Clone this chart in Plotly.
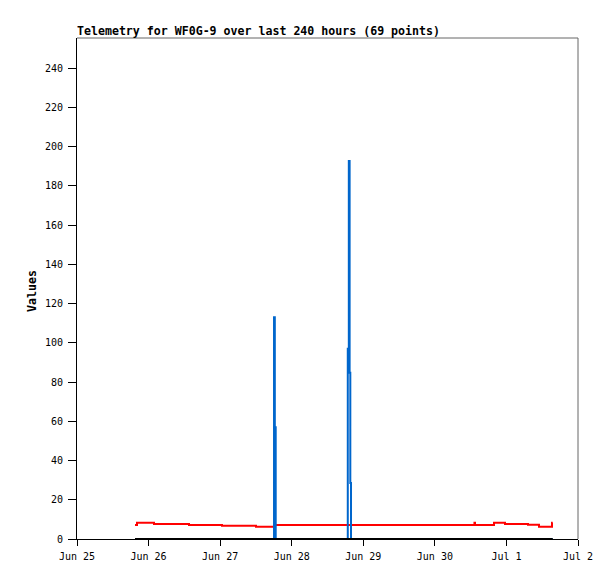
import plotly.graph_objects as go

# ---- data ----
times = [
    "2024-06-25 19:27", "2024-06-25 20:07", "2024-06-26 01:49", "2024-06-26 13:34",
    "2024-06-27 00:37", "2024-06-27 12:01", "2024-06-27 18:04", "2024-06-27 18:14",
    "2024-06-27 18:20", "2024-06-27 18:38", "2024-06-28 18:48", "2024-06-28 19:09",
    "2024-06-28 19:25", "2024-06-28 19:39", "2024-06-28 19:53", "2024-06-30 13:17",
    "2024-06-30 13:28", "2024-06-30 19:50", "2024-06-30 23:31", "2024-07-01 07:14",
    "2024-07-01 10:55", "2024-07-01 15:17", "2024-07-01 15:31",
]
red_vals = [7.1, 8.3, 7.6, 7.1, 6.7, 6.3, 6.3, 7.1, 7.1, 7.1, 7.1, 7.1,
            7.1, 7.1, 7.1, 8.3, 7.1, 8.3, 7.6, 7.2, 6.3, 8.3, 8.3]
blue_vals = [0, 0, 0, 0, 0, 0, 113, 113, 57, 0, 97, 192.6,
             84.7, 28.5, 0, 0, 0, 0, 0, 0, 0, 0, 0]
black_vals = [0, 0, 0, 0, 0, 0, 0, 0, 0, 0, 0, 0,
              0, 0, 0, 0, 0, 0, 0, 0, 0, 0, 0]

x_ticks = ["2024-06-25", "2024-06-26", "2024-06-27", "2024-06-28",
           "2024-06-29", "2024-06-30", "2024-07-01", "2024-07-02"]
x_tick_labels = ["Jun 25", "Jun 26", "Jun 27", "Jun 28", "Jun 29", "Jun 30", "Jul 1", "Jul 2"]
y_ticks = [0, 20, 40, 60, 80, 100, 120, 140, 160, 180, 200, 220, 240]

title_text = "Telemetry for WF0G-9 over last 240 hours (69 points)"
mono = "DejaVu Sans Mono"

# page has an 8px body margin, so the figure is shifted by 8px
W, H = 607, 571

fig = go.Figure()
fig.add_trace(go.Scatter(x=times, y=red_vals, mode="lines", line=dict(color="#ff0000", width=2, shape="hv"),
                         showlegend=False, hoverinfo="skip"))
fig.add_trace(go.Scatter(x=times, y=blue_vals, mode="lines", line=dict(color="#0066cc", width=2, shape="hv"),
                         showlegend=False, hoverinfo="skip"))
fig.add_trace(go.Scatter(x=times, y=black_vals, mode="lines", line=dict(color="#000000", width=2, shape="hv"),
                         showlegend=False, hoverinfo="skip"))

fig.update_layout(
    width=W, height=H,
    margin=dict(l=69, r=37, t=30, b=40, pad=0),
    paper_bgcolor="white", plot_bgcolor="white",
    font=dict(family=mono, size=10, color="black"),
    title=dict(text="<b>" + title_text + "</b>", x=69 / W, xanchor="left", xref="container",
               y=1 - 27 / H, yanchor="bottom", yref="container",
               font=dict(family=mono, size=11.6, color="black"), pad=dict(t=0, b=0, l=0, r=0)),
    xaxis=dict(type="date", range=["2024-06-25", "2024-07-02"], tickvals=x_ticks, ticktext=x_tick_labels,
               showgrid=False, zeroline=False, showline=True, linecolor="black", linewidth=1,
               ticks="outside", ticklen=6, tickcolor="black", tickwidth=1, ticklabelstandoff=2,
               tickfont=dict(family=mono, size=10, color="black")),
    yaxis=dict(range=[0, 255.3], tickvals=y_ticks, showgrid=False, zeroline=False,
               showline=True, linecolor="black", linewidth=1,
               ticks="outside", ticklen=8, tickcolor="black", tickwidth=1, ticklabelstandoff=3,
               tickfont=dict(family=mono, size=10, color="black")),
    shapes=[
        dict(type="line", xref="paper", yref="paper", x0=0, x1=1, y0=1, y1=1,
             line=dict(color="#666666", width=1), layer="below"),
        dict(type="line", xref="paper", yref="paper", x0=1, x1=1, y0=0, y1=1,
             line=dict(color="#666666", width=1), layer="below"),
    ],
    annotations=[
        dict(text="<b>Values</b>", xref="paper", yref="paper", x=(32 - 77) / 501, y=(539 - 291) / 501,
             xanchor="center", yanchor="middle", textangle=-90, showarrow=False,
             font=dict(family=mono, size=11.6, color="black")),
    ],
)

fig.write_html("out.html")
